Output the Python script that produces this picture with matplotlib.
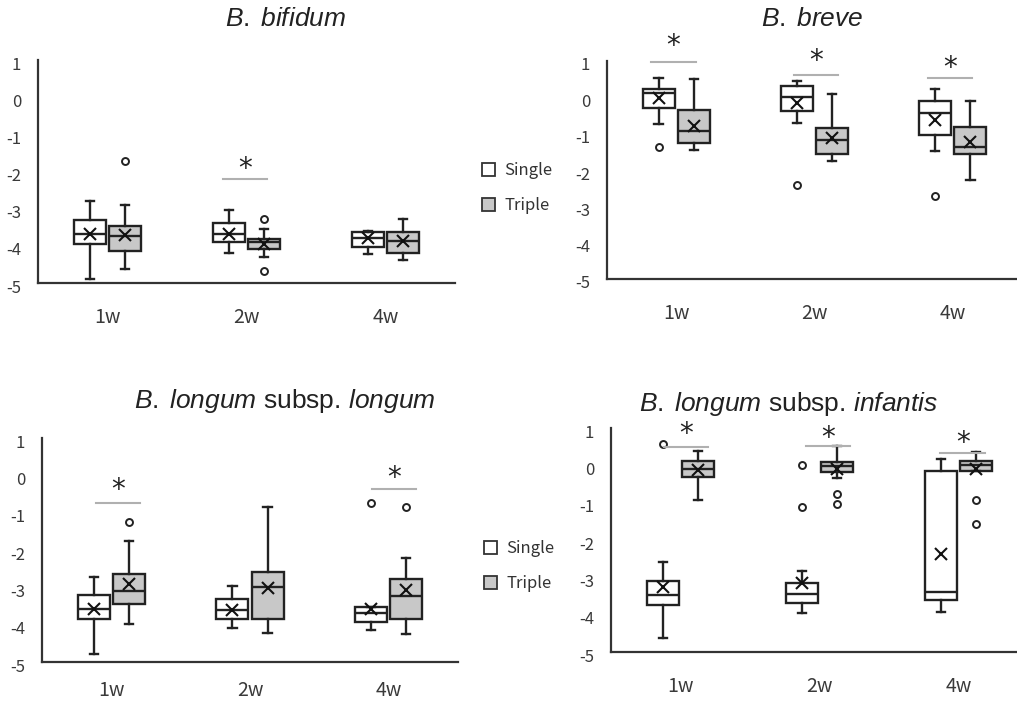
import matplotlib
matplotlib.use("Agg")
import matplotlib.pyplot as plt
import matplotlib.transforms as mtransforms
from matplotlib.patches import Patch

plt.rcParams["font.family"] = ["Noto Sans CJK JP", "DejaVu Sans"]
plt.rcParams["axes.unicode_minus"] = False
plt.rcParams["mathtext.fontset"] = "custom"
plt.rcParams["mathtext.it"] = "Liberation Sans:italic"
plt.rcParams["mathtext.rm"] = "Liberation Sans"

weeks = ["1w", "2w", "4w"]

# (low whisker, Q1, median, Q3, high whisker) per week
bifidum_single = [(-4.88, -3.94, -3.69, -3.31, -2.80), (-4.19, -3.91, -3.69, -3.38, -3.03), (-4.22, -4.03, -3.78, -3.63, -3.60)]
bifidum_single_mean = [-3.69, -3.69, -3.80]
bifidum_single_out = [[], [], []]
bifidum_triple = [(-4.63, -4.14, -3.73, -3.46, -2.89), (-4.29, -4.09, -3.91, -3.82, -3.54), (-4.38, -4.19, -3.87, -3.63, -3.29)]
bifidum_triple_mean = [-3.70, -3.96, -3.87]
bifidum_triple_out = [[-1.71], [-3.28, -4.68], []]
bifidum_stars = [(1.99, -2.20, -1.72)]  # x, line y, star y

breve_single = [(-0.74, -0.28, 0.12, 0.23, 0.53), (-0.72, -0.38, 0.00, 0.31, 0.46), (-1.48, -1.03, -0.42, -0.09, 0.23)]
breve_single_mean = [-0.03, -0.15, -0.63]
breve_single_out = [[-1.38], [-2.41], [-2.72]]
breve_triple = [(-1.45, -1.25, -0.93, -0.35, 0.51), (-1.75, -1.55, -1.17, -0.85, 0.10), (-2.27, -1.55, -1.36, -0.83, -0.09)]
breve_triple_mean = [-0.79, -1.11, -1.23]
breve_triple_out = [[], [], []]
breve_stars = [(0.98, 0.96, 1.63), (2.01, 0.62, 1.23), (2.98, 0.53, 1.03)]

longum_single = [(-4.79, -3.85, -3.59, -3.21, -2.73), (-4.10, -3.84, -3.61, -3.32, -2.96), (-4.13, -3.93, -3.70, -3.54, -3.52)]
longum_single_mean = [-3.59, -3.61, -3.59]
longum_single_out = [[], [], [-0.75]]
longum_triple = [(-3.97, -3.45, -3.11, -2.63, -1.77), (-4.21, -3.85, -2.99, -2.58, -0.85), (-4.26, -3.85, -3.22, -2.79, -2.22)]
longum_triple_mean = [-2.90, -3.01, -3.06]
longum_triple_out = [[-1.25], [], [-0.86]]
longum_stars = [(1.05, -0.75, -0.17), (3.04, -0.36, 0.15)]

infantis_single = [(-4.63, -3.73, -3.46, -3.09, -2.58), (-3.96, -3.69, -3.44, -3.16, -2.82), (-3.94, -3.62, -3.38, -0.16, 0.17)]
infantis_single_mean = [-3.27, -3.15, -2.38]
infantis_single_out = [[0.57], [0.0, -1.12], []]
infantis_triple = [(-0.92, -0.32, -0.11, 0.11, 0.38), (-0.33, -0.18, -0.02, 0.08, 0.53), (-0.15, -0.14, 0.0, 0.11, 0.35)]
infantis_triple_mean = [-0.13, -0.11, -0.11]
infantis_triple_out = [[], [-0.76, -1.04], [-0.92, -1.58]]
infantis_stars = [(1.04, 0.49, 1.07), (2.06, 0.51, 0.96), (3.03, 0.32, 0.82)]

W, H = 1017, 704
fig = plt.figure(figsize=(W / 100, H / 100), dpi=100)
edge = "#222222"
gray = "#c8c8c8"
star_fs = 20


def make_stats(five, means, outs):
    return [dict(whislo=f[0], q1=f[1], med=f[2], q3=f[3], whishi=f[4], mean=m, fliers=o)
            for f, m, o in zip(five, means, outs)]


def draw_panel(left, top, bottom, width, title, title_xy, single, s_mean, s_out, triple, t_mean, t_out, stars, xpad=17):
    ax = fig.add_axes([left / W, 1 - bottom / H, width / W, (bottom - top) / H])
    pos = [1, 2, 3]
    for five, means, outs, off, fc in [(single, s_mean, s_out, -0.127, "white"),
                                       (triple, t_mean, t_out, 0.127, gray)]:
        ax.bxp(make_stats(five, means, outs), positions=[p + off for p in pos], widths=0.23,
               capwidths=0.06, showmeans=True, patch_artist=True, manage_ticks=False,
               boxprops=dict(facecolor=fc, edgecolor=edge, linewidth=1.7),
               medianprops=dict(color=edge, linewidth=1.7),
               whiskerprops=dict(color=edge, linewidth=1.7),
               capprops=dict(color=edge, linewidth=1.7),
               meanprops=dict(marker="x", markeredgecolor="#111111", markersize=9, markeredgewidth=1.5),
               flierprops=dict(marker="o", markerfacecolor="white", markeredgecolor=edge,
                               markersize=5, markeredgewidth=1.4))
    for x, ly, sy in stars:
        ax.plot([x - 0.16, x + 0.16], [ly, ly], color="#b0b0b0", lw=1.5, clip_on=False)
        ax.annotate("*", (x, sy), xytext=(0, -0.59 * star_fs), textcoords="offset points",
                    ha="center", va="baseline", fontsize=star_fs, family="DejaVu Sans",
                    color="#222222", annotation_clip=False)
    ax.set_xlim(0.5, 3.5)
    ax.set_ylim(-5, 1)
    ax.set_yticks([1, 0, -1, -2, -3, -4, -5])
    ax.set_xticks(pos)
    ax.set_xticklabels(weeks)
    ax.tick_params(length=0, colors="#3a3a3a")
    ax.tick_params(axis="x", pad=xpad, labelsize=14)
    ax.tick_params(axis="y", pad=12, labelsize=12)
    off = mtransforms.ScaledTranslation(0, -0.03, fig.dpi_scale_trans)
    for lab in ax.get_yticklabels():
        lab.set_transform(lab.get_transform() + off)
    for s in ["top", "right"]:
        ax.spines[s].set_visible(False)
    for s in ["left", "bottom"]:
        ax.spines[s].set_linewidth(1.6)
        ax.spines[s].set_color("#333333")
    fig.text(title_xy[0] / W, 1 - title_xy[1] / H, title, ha="center", va="center",
             fontsize=19, family="Liberation Sans", color="#222222")
    return ax


draw_panel(38, 60, 283, 417, r"$\mathit{B.\;bifidum}$", (286, 19),
           bifidum_single, bifidum_single_mean, bifidum_single_out,
           bifidum_triple, bifidum_triple_mean, bifidum_triple_out, bifidum_stars)
draw_panel(607, 61, 279, 415, r"$\mathit{B.\;breve}$", (812, 19),
           breve_single, breve_single_mean, breve_single_out,
           breve_triple, breve_triple_mean, breve_triple_out, breve_stars)
draw_panel(42, 438, 662, 416, r"$\mathit{B.\;longum}$ subsp. $\mathit{longum}$", (285, 401),
           longum_single, longum_single_mean, longum_single_out,
           longum_triple, longum_triple_mean, longum_triple_out, longum_stars, xpad=13)
draw_panel(611, 428, 652, 417, r"$\mathit{B.\;longum}$ subsp. $\mathit{infantis}$", (789, 404),
           infantis_single, infantis_single_mean, infantis_single_out,
           infantis_triple, infantis_triple_mean, infantis_triple_out, infantis_stars)

handles = [Patch(facecolor="white", edgecolor="#333333", lw=1.3, label="Single"),
           Patch(facecolor=gray, edgecolor="#333333", lw=1.3, label="Triple")]
for lx, ly in [(482, 162), (484, 540)]:
    fig.legend(handles=handles, loc="upper left", bbox_to_anchor=(lx / W, 1 - ly / H),
               frameon=False, handlelength=0.8, handleheight=0.8, labelspacing=1.1,
               handletextpad=0.55, borderpad=0, borderaxespad=0, fontsize=12,
               labelcolor="#333333")

fig.savefig("out.png", dpi=100)
